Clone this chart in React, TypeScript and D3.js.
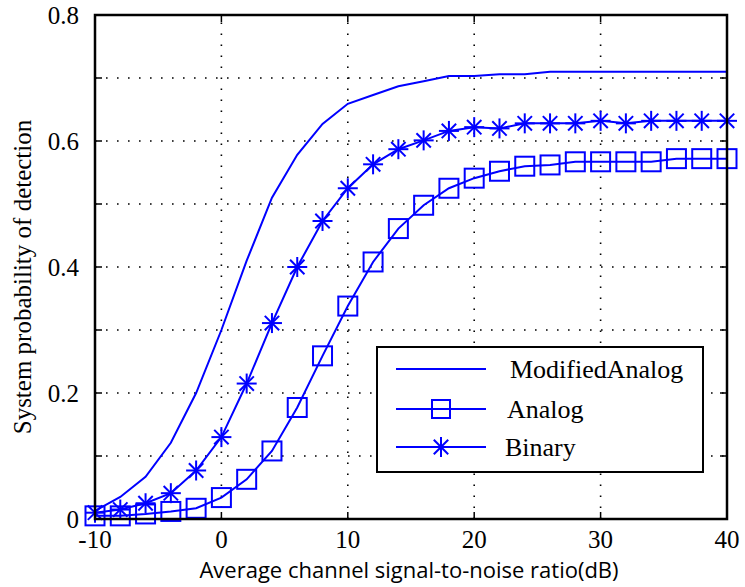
import React from 'react';
import * as d3 from 'd3';

// SNR axis (dB)
const snr = [-10, -8, -6, -4, -2, 0, 2, 4, 6, 8, 10, 12, 14, 16, 18, 20, 22, 24, 26, 28, 30, 32, 34, 36, 38, 40];

const modifiedAnalog = [0.013, 0.035, 0.067, 0.121, 0.2, 0.3, 0.41, 0.51, 0.578, 0.627, 0.659, 0.673, 0.687, 0.695, 0.703, 0.703, 0.706, 0.706, 0.71, 0.71, 0.71, 0.71, 0.71, 0.71, 0.71, 0.71];
const analog = [0.005, 0.005, 0.008, 0.012, 0.017, 0.034, 0.063, 0.108, 0.177, 0.259, 0.338, 0.408, 0.461, 0.498, 0.525, 0.541, 0.552, 0.56, 0.562, 0.567, 0.567, 0.567, 0.567, 0.572, 0.572, 0.572];
const binary = [0.01, 0.015, 0.025, 0.041, 0.077, 0.13, 0.215, 0.311, 0.4, 0.473, 0.525, 0.563, 0.587, 0.601, 0.616, 0.622, 0.62, 0.628, 0.628, 0.628, 0.632, 0.628, 0.632, 0.632, 0.632, 0.632];

const xTicks = [-10, 0, 10, 20, 30, 40];
const yTicks = [0, 0.1, 0.2, 0.3, 0.4, 0.5, 0.6, 0.7, 0.8];
const yLabels = ['0', '', '0.2', '', '0.4', '', '0.6', '', '0.8'];
const legendNames = ['ModifiedAnalog', 'Analog', 'Binary'];

const BLUE = '#0000ff';

function Star({ x, y, r }: { x: number; y: number; r: number }) {
  const d = r * 0.72;
  return (
    <g stroke={BLUE} strokeWidth={2}>
      <line x1={x - r} y1={y} x2={x + r} y2={y} />
      <line x1={x} y1={y - r} x2={x} y2={y + r} />
      <line x1={x - d} y1={y - d} x2={x + d} y2={y + d} />
      <line x1={x - d} y1={y + d} x2={x + d} y2={y - d} />
    </g>
  );
}

function Square({ x, y, s }: { x: number; y: number; s: number }) {
  return <rect x={x - s / 2} y={y - s / 2} width={s} height={s} fill="none" stroke={BLUE} strokeWidth={2} />;
}

export default function App() {
  const left = 95, right = 727, top = 15, bottom = 519;

  const x = d3.scaleLinear().domain([-10, 40]).range([left, right]);
  const y = d3.scaleLinear().domain([0, 0.8]).range([bottom, top]);

  const line = d3.line<number>()
    .x((_, i) => x(snr[i]))
    .y(d => y(d));

  const serif = '"Liberation Serif", "Times New Roman", serif';
  const tickLen = 7;

  // legend box
  const lg = { x: 377, y: 347, w: 326, h: 125 };
  const rows = [369, 409, 447];

  return (
    <svg width={745} height={587} style={{ position: 'absolute', left: 0, top: 0, background: '#fff' }}>
      {/* grid */}
      <g stroke="#000" strokeWidth={1.6} strokeDasharray="1.6,9.4">
        {xTicks.slice(1, -1).map(t => (
          <line key={'gx' + t} x1={x(t)} x2={x(t)} y1={bottom} y2={top} />
        ))}
        {yTicks.slice(1, -1).map(t => (
          <line key={'gy' + t} x1={left} x2={right} y1={y(t)} y2={y(t)} />
        ))}
      </g>

      {/* ticks */}
      <g stroke="#000" strokeWidth={1.5}>
        {xTicks.map(t => (
          <g key={'tx' + t}>
            <line x1={x(t)} x2={x(t)} y1={bottom} y2={bottom - tickLen} />
            <line x1={x(t)} x2={x(t)} y1={top} y2={top + tickLen} />
          </g>
        ))}
        {yTicks.map(t => (
          <g key={'ty' + t}>
            <line x1={left} x2={left + tickLen} y1={y(t)} y2={y(t)} />
            <line x1={right} x2={right - tickLen} y1={y(t)} y2={y(t)} />
          </g>
        ))}
      </g>

      {/* series */}
      <path d={line(modifiedAnalog) || ''} fill="none" stroke={BLUE} strokeWidth={2} />
      <path d={line(analog) || ''} fill="none" stroke={BLUE} strokeWidth={2} />
      <path d={line(binary) || ''} fill="none" stroke={BLUE} strokeWidth={2} />
      {analog.map((v, i) => <Square key={'a' + i} x={x(snr[i])} y={y(v)} s={19} />)}
      {binary.map((v, i) => <Star key={'b' + i} x={x(snr[i])} y={y(v)} r={10} />)}

      {/* frame */}
      <rect x={left} y={top} width={right - left} height={bottom - top} fill="none" stroke="#000" strokeWidth={2.5} />

      {/* tick labels */}
      <g fontFamily={serif} fontSize={25} fill="#000">
        {xTicks.map(t => (
          <text key={'lx' + t} x={x(t)} y={548} textAnchor="middle">{t}</text>
        ))}
        {yTicks.map((t, i) => yLabels[i] ? (
          <text key={'ly' + t} x={79} y={y(t)} dy="0.35em" textAnchor="end">{yLabels[i]}</text>
        ) : null)}
      </g>

      {/* axis titles */}
      <text x={409} y={578} textAnchor="middle" fontFamily='"Open Sans", sans-serif' fontSize={22} fill="#000">
        Average channel signal-to-noise ratio(dB)
      </text>
      <text transform="translate(31,277) rotate(-90)" textAnchor="middle" fontFamily={serif} fontSize={25} fill="#000">
        System probability of detection
      </text>

      {/* legend */}
      <rect x={lg.x} y={lg.y} width={lg.w} height={lg.h} fill="#fff" stroke="#000" strokeWidth={2} />
      {legendNames.map((name, i) => (
        <g key={name}>
          <line x1={396} x2={486} y1={rows[i]} y2={rows[i]} stroke={BLUE} strokeWidth={2} />
          {i === 1 && <Square x={441} y={rows[i]} s={18} />}
          {i === 2 && <Star x={441} y={rows[i]} r={10} />}
          <text x={i === 0 ? 510 : i === 1 ? 507 : 505} y={rows[i]} dy="0.35em" fontFamily={serif} fontSize={26} fill="#000">{name}</text>
        </g>
      ))}
    </svg>
  );
}
